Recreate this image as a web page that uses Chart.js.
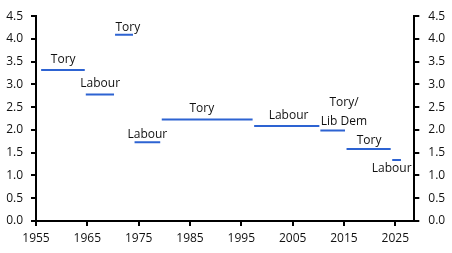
<!DOCTYPE html>
<html>
<head>
<meta charset="utf-8">
<script src="https://cdn.jsdelivr.net/npm/chart.js@4/dist/chart.umd.min.js"></script>
<style>
  html, body { margin: 0; padding: 0; background: #fff; }
  #chart { display: block; }
</style>
</head>
<body>
<canvas id="chart" width="452" height="253"></canvas>
<script>
'use strict';

// Average value per government period
const parties = ['Tory', 'Labour', 'Tory', 'Labour', 'Tory', 'Labour', 'Tory/\nLib Dem', 'Tory', 'Labour'];
const periodStart = [1956.0, 1964.7, 1970.4, 1974.2, 1979.5, 1997.5, 2010.4, 2015.5, 2024.4];
const periodEnd = [1964.5, 1970.2, 1973.9, 1979.2, 1997.2, 2010.2, 2015.2, 2024.1, 2026.1];
const periodValue = [3.32, 2.78, 4.09, 1.73, 2.23, 2.09, 1.99, 1.58, 1.34];

const xTicks = [1955, 1965, 1975, 1985, 1995, 2005, 2015, 2025];

// Where each party name sits (data coordinates)
const labelX = [1960.3, 1967.5, 1972.9, 1976.7, 1987.3, 2004.2, 2015.0, 2019.9, 2024.3];
const labelY = [3.55, 3.02, 4.26, 1.90, 2.47, 2.31, 2.40, 1.76, 1.16];

const LINE_BLUE = '#2d63d2';
const FONT = '"Open Sans", "Noto Sans", sans-serif';

const datasets = periodValue.map((v, i) => ({
    label: parties[i],
    data: [{ x: periodStart[i], y: v }, { x: periodEnd[i], y: v }],
    borderColor: LINE_BLUE,
    borderWidth: 2,
    borderCapStyle: 'butt',
    pointRadius: 0,
    fill: false
}));

// Draws the party names next to their segments
const partyLabels = {
    id: 'partyLabels',
    afterDatasetsDraw(chart) {
        const { ctx, scales } = chart;
        ctx.save();
        ctx.font = '12px ' + FONT;
        ctx.fillStyle = '#111';
        ctx.textAlign = 'center';
        ctx.textBaseline = 'middle';
        parties.forEach((name, i) => {
            const px = scales.x.getPixelForValue(labelX[i]);
            const py = scales.y.getPixelForValue(labelY[i]);
            const lines = name.split('\n');
            const lh = 19;
            lines.forEach((line, j) => {
                ctx.fillText(line, px, py + (j - (lines.length - 1) / 2) * lh);
            });
        });
        ctx.restore();
    }
};

const axisGrid = {
    display: true,
    drawOnChartArea: false,
    drawTicks: true,
    tickLength: 5,
    color: '#000',
    lineWidth: 2
};

const yTicks = {
    stepSize: 0.5,
    color: '#111',
    font: { family: FONT, size: 12 },
    callback: v => Number(v).toFixed(1)
};

new Chart(document.getElementById('chart'), {
    type: 'line',
    data: { datasets: datasets },
    options: {
        responsive: false,
        animation: false,
        layout: { padding: { top: 11.5, left: 0, right: 0, bottom: 0 } },
        plugins: {
            legend: { display: false },
            tooltip: { enabled: false }
        },
        scales: {
            x: {
                type: 'linear',
                min: 1955,
                max: 2028.7,
                grid: axisGrid,
                border: { display: true, color: '#000', width: 2 },
                ticks: {
                    color: '#111',
                    padding: 5,
                    maxRotation: 0,
                    font: { family: FONT, size: 12 },
                    callback: v => String(v)
                },
                afterBuildTicks: scale => {
                    scale.ticks = xTicks.map(v => ({ value: v }));
                },
                afterFit: scale => { scale.height = 32; }
            },
            y: {
                position: 'left',
                min: 0,
                max: 4.5,
                grid: axisGrid,
                border: { display: true, color: '#000', width: 2 },
                ticks: Object.assign({ padding: 8 }, yTicks),
                afterFit: scale => { scale.width = 36; }
            },
            y2: {
                position: 'right',
                min: 0,
                max: 4.5,
                grid: axisGrid,
                border: { display: true, color: '#000', width: 2 },
                ticks: Object.assign({ padding: 9 }, yTicks),
                afterFit: scale => { scale.width = 37.7; }
            }
        }
    },
    plugins: [partyLabels]
});
</script>
</body>
</html>
